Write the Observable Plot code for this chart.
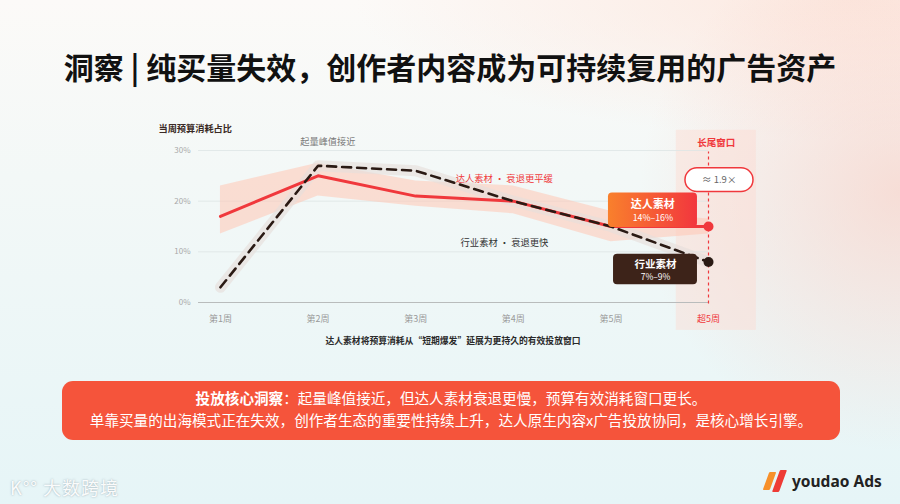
<!DOCTYPE html>
<html><head><meta charset="utf-8">
<script src="https://cdn.jsdelivr.net/npm/d3@7"></script>
<script src="https://cdn.jsdelivr.net/npm/@observablehq/plot@0.6"></script>
<style>
html,body{margin:0;padding:0;}
body{width:900px;height:504px;overflow:hidden;position:relative;font-family:"Noto Sans CJK SC","Noto Sans",sans-serif;
background:
 radial-gradient(ellipse 260px 260px at 100% 38%, rgba(250,200,188,0.55) 0%, rgba(250,200,188,0) 100%),
 radial-gradient(ellipse 500px 140px at 95% 0%, rgba(252,228,218,0.8) 0%, rgba(252,228,218,0) 100%),
 linear-gradient(180deg,#fcfaf8 0%,#f3f8f7 35%,#e6f5f7 100%);}
#title{position:absolute;top:45px;left:0;width:900px;text-align:center;font-size:30px;line-height:42px;font-weight:700;color:#111;}
#chart{position:absolute;left:0;top:110px;}
#caption{position:absolute;left:0;width:906px;top:334px;text-align:center;font-size:8.8px;font-weight:700;color:#2a2a2a;}
#insight{position:absolute;left:62px;top:381px;width:778px;height:59px;border-radius:11px;background:#f5543b;color:#fff;text-align:center;font-size:14.6px;line-height:21.5px;padding-top:6px;box-sizing:border-box;}
#insight b{font-weight:700;}
#brandL{position:absolute;left:10px;top:474px;color:rgba(255,255,255,0.95);font-size:18px;text-shadow:0 0 2px rgba(120,140,150,0.7);letter-spacing:1px;}
#brandR{position:absolute;left:766px;top:468px;height:26px;display:flex;align-items:center;}
#brandR .bar{width:7px;height:18px;transform:skewX(-20deg);margin-right:3px;border-radius:1px;}
#brandR span{font-size:15.5px;font-weight:700;color:#222;margin-left:6px;font-family:"Noto Sans","DejaVu Sans",sans-serif;}
</style></head>
<body>
<div id="title">洞察 | 纯买量失效，创作者内容成为可持续复用的广告资产</div>
<div id="chart"></div>
<div id="caption">达人素材将预算消耗从“短期爆发”延展为更持久的有效投放窗口</div>
<div id="insight"><b>投放核心洞察</b>：起量峰值接近，但达人素材衰退更慢，预算有效消耗窗口更长。<br>单靠买量的出海模式正在失效，创作者生态的重要性持续上升，达人原生内容x广告投放协同，是核心增长引擎。</div>
<div id="brandL">K°° 大数跨境</div>
<div id="brandR"><div class="bar" style="background:#f7902a"></div><div class="bar" style="background:#ee3b35;height:22px"></div><span>youdao Ads</span></div>
<script>
const weeks = ["第1周","第2周","第3周","第4周","第5周","超5周"];
const creatorShare = [17,25,21,20,15,15];
const creatorLow = [13.5,21,19,17.5,12,13.5];
const creatorHigh = [23,27.5,24,23,18,16.5];
const industryShare = [3,27,26,20,15,8];
const yTicks = [0,10,20,30];
const creatorRange = "14%–16%";
const industryRange = "7%–9%";
const ratioLabel = "≈ 1.9×";

const rows = weeks.map((w,i)=>({i, week:w, creator:creatorShare[i], lo:creatorLow[i], hi:creatorHigh[i], industry:industryShare[i]}));
const last = rows.length - 1;
const end = rows[last];
const RED = "#f0383c", DARK = "#2a1a14";
const font = "'Noto Sans CJK SC','Noto Sans',sans-serif";

const svg = Plot.plot({
  width: 900, height: 240,
  marginLeft: 198, marginRight: 192, marginTop: 40, marginBottom: 48,
  x: {type: "linear", domain: [-0.225, last], axis: null},
  y: {domain: [0, 30], axis: null},
  style: {background: "transparent", fontFamily: font, overflow: "visible"},
  marks: [
    Plot.rect([end], {x1: d => d.i - 0.33, x2: d => d.i + 0.49, y1: -5.5, y2: 34, fill: "#fdd9cf", fillOpacity: 0.42}),
    Plot.ruleY(yTicks.slice(1), {stroke: "#dde5e5", strokeWidth: 0.8}),
    Plot.ruleY([0], {stroke: "#b9bcbc", strokeWidth: 1}),
    Plot.text(yTicks, {x: -0.225, y: d => d, dx: -8, textAnchor: "end", text: d => d + "%", fill: "#a9a9a9", fontSize: 8}),
    Plot.text(["当周预算消耗占比"], {x: -0.635, y: 34.3, textAnchor: "start", fill: "#3a2a25", fontSize: 9.2, fontWeight: 700}),
    Plot.text(rows, {x: "i", y: 0, dy: 17, text: "week", fill: d => d.i === last ? RED : "#9a9a9a", fontWeight: d => d.i === last ? 700 : 400, fontSize: 9}),
    Plot.areaY(rows, {x: "i", y1: "lo", y2: "hi", fill: "#ffc6b4", fillOpacity: 0.55}),
    Plot.line(rows, {x: "i", y: "industry", stroke: "#e6dfdc", strokeWidth: 11, strokeOpacity: 0.65, strokeLinejoin: "round"}),
    Plot.line(rows, {x: "i", y: "creator", stroke: RED, strokeWidth: 3, strokeLinejoin: "round"}),
    Plot.line(rows, {x: "i", y: "industry", stroke: DARK, strokeWidth: 2.6, strokeDasharray: "9,6"}),
    Plot.ruleX([end], {x: "i", y1: -0.3, y2: 29.7, stroke: RED, strokeWidth: 1.2, strokeDasharray: "3,3"}),
    Plot.dot([end], {x: "i", y: "creator", r: 5, fill: RED}),
    Plot.dot([end], {x: "i", y: "industry", r: 5, fill: DARK}),
    Plot.text(["起量峰值接近"], {x: 1.1, y: 31.7, fill: "#7a7a7a", fontSize: 9.2}),
    Plot.text(["达人素材 · 衰退更平缓"], {x: 2.41, y: 24.4, textAnchor: "start", fill: RED, fontSize: 9.3}),
    Plot.text(["行业素材 · 衰退更快"], {x: 2.46, y: 11.7, textAnchor: "start", fill: "#333", fontSize: 9.3}),
    Plot.text(["长尾窗口"], {x: last + 0.08, y: 31.5, fill: RED, fontSize: 9.5, fontWeight: 700}),
    Plot.rect([end], {x1: d => d.i - 0.236, x2: d => d.i + 0.461, y1: 21.8, y2: 26.5, fill: "#fff", stroke: RED, strokeWidth: 1.5, rx: 12}),
    Plot.text([ratioLabel], {x: last + 0.11, y: 24.15, fill: "#666", fontSize: 9.5}),
    Plot.rect([end], {x1: d => d.i - 1.025, x2: d => d.i - 0.113, y1: 14.8, y2: 21.6, fill: "url(#gradCreator)", rx: 4}),
    Plot.text(["达人素材"], {x: last - 0.57, y: 19.3, fill: "#fff", fontSize: 11, fontWeight: 700}),
    Plot.text([creatorRange], {x: last - 0.57, y: 16.6, fill: "#fff", fontSize: 8.8}),
    Plot.rect([end], {x1: d => d.i - 0.973, x2: d => d.i - 0.113, y1: 3.5, y2: 9.5, fill: "#3d2319", rx: 4}),
    Plot.text(["行业素材"], {x: last - 0.543, y: 7.55, fill: "#fff", fontSize: 10.5, fontWeight: 700}),
    Plot.text([industryRange], {x: last - 0.543, y: 5.0, fill: "#fff", fontSize: 8.5})
  ]
});
const defs = d3.select(svg).insert("defs", ":first-child");
const g = defs.append("linearGradient").attr("id", "gradCreator").attr("x1", "0").attr("x2", "1").attr("y1", "0").attr("y2", "0");
g.append("stop").attr("offset", "0").attr("stop-color", "#f9802c");
g.append("stop").attr("offset", "1").attr("stop-color", "#f2363e");
document.getElementById("chart").appendChild(svg);
</script>
</body></html>
